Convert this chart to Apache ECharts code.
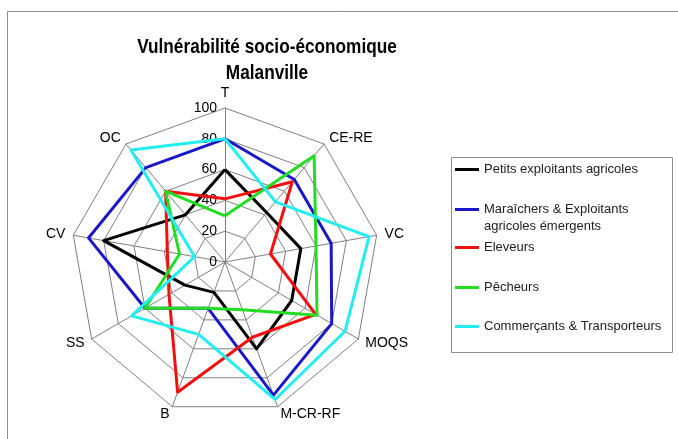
<!DOCTYPE html>
<html><head><meta charset="utf-8">
<script src="https://cdn.jsdelivr.net/npm/echarts@6/dist/echarts.min.js"></script>
<style>html,body{margin:0;padding:0;background:#fff}#c{width:678px;height:439px}</style>
</head><body><div id="c"></div>
<script>
// Axes in clockwise order starting from the top
const axes = ['T', 'CE-RE', 'VC', 'MOQS', 'M-CR-RF', 'B', 'SS', 'CV', 'OC'];
const tickLabels = ['0', '20', '40', '60', '80', '100'];
const seriesNames = ['Petits exploitants agricoles', 'Maraîchers & Exploitants agricoles émergents', 'Eleveurs', 'Pêcheurs', 'Commerçants & Transporteurs'];
const petitsExploitants = [60, 42, 50, 50, 60, 21, 30, 80, 40];
const maraichers = [80, 70, 70, 80, 92, 32, 60, 90, 80];
const eleveurs = [41, 68, 30, 68, 52, 90, 42, 38, 60];
const pecheurs = [30, 90, 60, 69, 33, 32, 60, 30, 60];
const commercants = [80, 51, 95, 90, 95, 50, 70, 20, 95];

const allValues = [petitsExploitants, maraichers, eleveurs, pecheurs, commercants];
const colors = ['#000000', '#1818c8', '#f01010', '#22dd22', '#22eef2'];
const FONT = '"Liberation Sans", Arial, sans-serif';

// ECharts draws radar indicators counter-clockwise: reorder so the picture is clockwise
const order = [0, 8, 7, 6, 5, 4, 3, 2, 1];
const indicator = order.map((i, k) => {
  const ind = { name: axes[i], min: 0, max: 100 };
  if (k === 0) ind.axisLabel = { show: true };
  return ind;
});

const legendTops = [161, 184, 239, 279, 318];

const chart = echarts.init(document.getElementById('c'), null, { renderer: 'canvas' });
chart.setOption({
  animation: false,
  backgroundColor: '#ffffff',
  graphic: [
    { type: 'rect', shape: { x: 7.5, y: 11.5, width: 700, height: 460 }, style: { fill: 'none', stroke: '#8c8c8c', lineWidth: 1 }, silent: true },
    { type: 'rect', shape: { x: 451.5, y: 157.5, width: 221, height: 195 }, style: { fill: '#fff', stroke: '#8c8c8c', lineWidth: 1 }, silent: true, z: -1 },
    { type: 'text', x: 267, y: 60, scaleX: 0.82, silent: true,
      style: { text: 'Vulnérabilité socio-économique\nMalanville', fontFamily: FONT, fontWeight: 'bold', fontSize: 21, lineHeight: 26,
               fill: '#000', align: 'center', verticalAlign: 'middle' } }
  ],
  legend: seriesNames.map((n, i) => ({
    data: [n],
    orient: 'vertical',
    left: 455, top: legendTops[i],
    padding: 0,
    icon: 'rect', itemWidth: 24, itemHeight: 3,
    formatter: name => name === seriesNames[1] ? '\nMaraîchers & Exploitants\nagricoles émergents' : name,
    textStyle: { fontFamily: FONT, fontSize: 13, lineHeight: 17, color: '#222' },
    selectedMode: false
  })),
  radar: {
    center: [225, 262],
    radius: 154,
    startAngle: 90,
    splitNumber: 5,
    shape: 'polygon',
    indicator: indicator,
    axisName: { color: '#000', fontFamily: FONT, fontSize: 14 },
    nameGap: 8,
    axisLine: { lineStyle: { color: '#808080', width: 1 } },
    splitLine: { lineStyle: { color: '#808080', width: 1 } },
    splitArea: { show: false },
    axisTick: { show: false },
    axisLabel: { show: false, color: '#000', fontFamily: FONT, fontSize: 14, formatter: v => tickLabels[Math.round(v / 20)] }
  },
  series: [{
    type: 'radar',
    symbol: 'none',
    data: allValues.map((vals, i) => ({
      name: seriesNames[i],
      value: order.map(j => vals[j]),
      itemStyle: { color: colors[i] },
      lineStyle: { color: colors[i], width: 3 }
    }))
  }]
});
</script></body></html>
